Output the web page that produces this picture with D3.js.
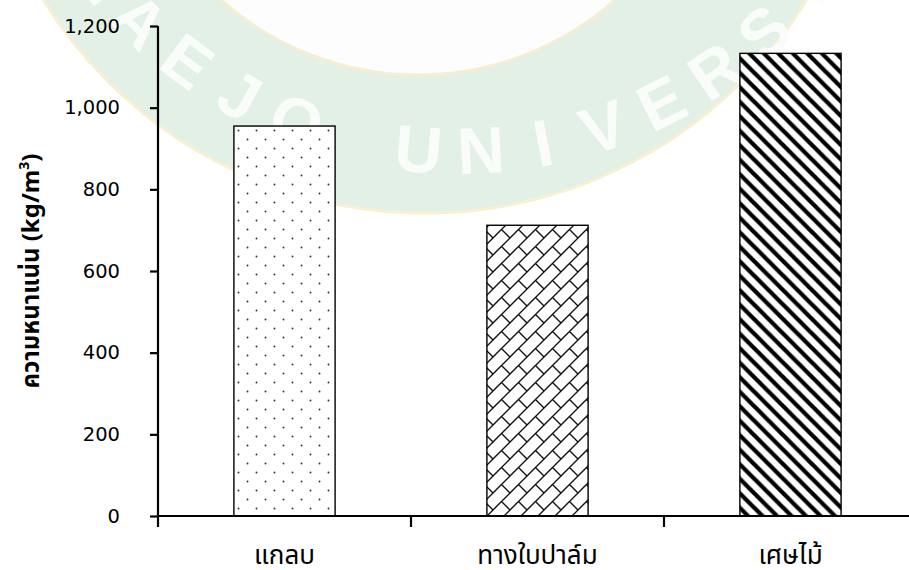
<!DOCTYPE html>
<html>
<head>
<meta charset="utf-8">
<script src="https://cdn.jsdelivr.net/npm/d3@7"></script>
<style>
  html, body { margin: 0; padding: 0; background: #fff; }
  svg { display: block; }
</style>
</head>
<body>
<svg id="chart" width="909" height="570"></svg>
<script>
// Bulk density of each material (kg/m3)
const categories = ["แกลบ", "ทางใบปาล์ม", "เศษไม้"];
const densities = [955, 712, 1133];
const yTicks = [0, 200, 400, 600, 800, 1000, 1200];
const fillPatterns = ["dots", "dgBrick", "wdDiag"];
const sealLetters = "MAEJO UNIVERSITY".split("");

const width = 909, height = 570;
const margin = { top: 26, bottom: 54, left: 158 };
const plotBottom = height - margin.bottom;   // y of the zero line

const svg = d3.select("#chart");
const defs = svg.append("defs");

// ---- fill patterns -------------------------------------------------------
// sparse staggered dots
const pDots = defs.append("pattern").attr("id", "dots")
  .attr("patternUnits", "userSpaceOnUse").attr("width", 18).attr("height", 18);
pDots.append("rect").attr("width", 18).attr("height", 18).attr("fill", "#fff");
[[4.5, 4.5], [13.5, 13.5]].forEach(([cx, cy]) =>
  pDots.append("circle").attr("cx", cx).attr("cy", cy).attr("r", 0.95).attr("fill", "#333"));

// diagonal brick
const b = 17;
const pBrick = defs.append("pattern").attr("id", "dgBrick")
  .attr("patternUnits", "userSpaceOnUse").attr("width", b).attr("height", b);
pBrick.append("rect").attr("width", b).attr("height", b).attr("fill", "#fff");
pBrick.append("path")
  .attr("d", `M${-b},${b} L${b},${-b} M${-b},${2*b} L${2*b},${-b} M0,${2*b} L${2*b},0` +
             ` M${b/2},${b/2} L${b},${b} M${-b/2},${-b/2} L0,0`)
  .attr("stroke", "#111").attr("stroke-width", 1.4).attr("fill", "none");

// wide downward diagonal
const w = 14.5;
const pDiag = defs.append("pattern").attr("id", "wdDiag")
  .attr("patternUnits", "userSpaceOnUse").attr("width", w).attr("height", w);
pDiag.append("rect").attr("width", w).attr("height", w).attr("fill", "#fff");
pDiag.append("path")
  .attr("d", `M${-w},0 L${w},${2*w} M${-w},${-w} L${2*w},${2*w} M0,${-w} L${2*w},${w}`)
  .attr("stroke", "#000").attr("stroke-width", 4.2).attr("fill", "none");

// ---- faint university seal in the background ------------------------------
const seal = svg.append("g").attr("class", "seal");
seal.append("circle").attr("cx", 425).attr("cy", -235).attr("r", 448)
  .attr("fill", "#e3f0e6").attr("stroke", "#f8f0d2").attr("stroke-width", 3);
seal.append("circle").attr("cx", 418).attr("cy", -221).attr("r", 296)
  .attr("fill", "#fcfdfc").attr("stroke", "#f6eed2").attr("stroke-width", 3);
// lettering runs round the lower rim of the seal
const tc = { x: 458, y: -303 };
const letterStep = 7.9, letterBase = 95, uIndex = 6, baseR = 477;
sealLetters.forEach((ch, i) => {
  if (ch === " ") return;
  const th = letterBase - (i - uIndex) * letterStep;
  const rad = th * Math.PI / 180;
  seal.append("text")
    .attr("transform", `translate(${tc.x + baseR * Math.cos(rad)},${tc.y + baseR * Math.sin(rad)}) rotate(${th - 90})`)
    .attr("text-anchor", "middle")
    .attr("font-family", "Liberation Sans, Arial, sans-serif")
    .attr("font-weight", "bold")
    .attr("font-size", 66)
    .attr("fill", "#fafcfa")
    .text(ch);
});

// ---- scales --------------------------------------------------------------
const x = d3.scaleBand()
  .domain(categories)
  .range([margin.left, margin.left + 3 * 253])
  .paddingInner(0.6)
  .paddingOuter(0.3);
const y = d3.scaleLinear().domain([0, 1200]).range([plotBottom, margin.top]);

// ---- bars ----------------------------------------------------------------
svg.append("g").selectAll("rect")
  .data(categories)
  .join("rect")
  .attr("x", d => x(d))
  .attr("y", (d, i) => y(densities[i]))
  .attr("width", x.bandwidth())
  .attr("height", (d, i) => y(0) - y(densities[i]))
  .attr("fill", (d, i) => `url(#${fillPatterns[i]})`)
  .attr("stroke", "#000")
  .attr("stroke-width", 1.4);

// ---- y axis --------------------------------------------------------------
const yAxis = svg.append("g")
  .attr("transform", `translate(${margin.left},0)`)
  .call(d3.axisLeft(y).tickValues(yTicks).tickSize(8).tickPadding(30)
    .tickFormat(d3.format(",")));
yAxis.select(".domain").attr("stroke", "#000").attr("stroke-width", 2.2)
  .attr("d", `M0,${y(1200)}V${y(0)}`);
yAxis.selectAll(".tick line").attr("stroke", "#000").attr("stroke-width", 2.2);
yAxis.selectAll(".tick text")
  .attr("font-family", "DejaVu Sans, Verdana, sans-serif")
  .attr("font-size", 19.5)
  .attr("fill", "#000");

// ---- x axis --------------------------------------------------------------
const step = x.step();
const r0 = x.range()[0];
const xAxis = svg.append("g");
xAxis.append("line")
  .attr("x1", margin.left).attr("x2", x.range()[1])
  .attr("y1", y(0)).attr("y2", y(0))
  .attr("stroke", "#000").attr("stroke-width", 2.2);
xAxis.selectAll("line.tk")
  .data(d3.range(categories.length + 1))
  .join("line").attr("class", "tk")
  .attr("x1", i => r0 + i * step).attr("x2", i => r0 + i * step)
  .attr("y1", y(0)).attr("y2", y(0) + 11)
  .attr("stroke", "#000").attr("stroke-width", 2.2);
xAxis.selectAll("text")
  .data(categories)
  .join("text")
  .attr("x", d => x(d) + x.bandwidth() / 2)
  .attr("y", 564)
  .attr("text-anchor", "middle")
  .attr("font-family", "Noto Sans Thai, Noto Sans, DejaVu Sans, sans-serif")
  .attr("font-size", 26)
  .attr("fill", "#000")
  .text(d => d);

// ---- y axis title ----------------------------------------------------------
const yTitle = svg.append("text")
  .attr("transform", `translate(39,${(y(0) + y(1200)) / 2}) rotate(-90)`)
  .attr("text-anchor", "middle")
  .attr("font-family", "Noto Sans Thai, DejaVu Sans, sans-serif")
  .attr("font-weight", "bold")
  .attr("font-size", 24)
  .attr("fill", "#000");
yTitle.append("tspan").text("ความหนาแน่น (kg/m");
yTitle.append("tspan").attr("dy", -10).attr("font-size", 14).text("3");
yTitle.append("tspan").attr("dy", 10).text(")");
</script>
</body>
</html>
